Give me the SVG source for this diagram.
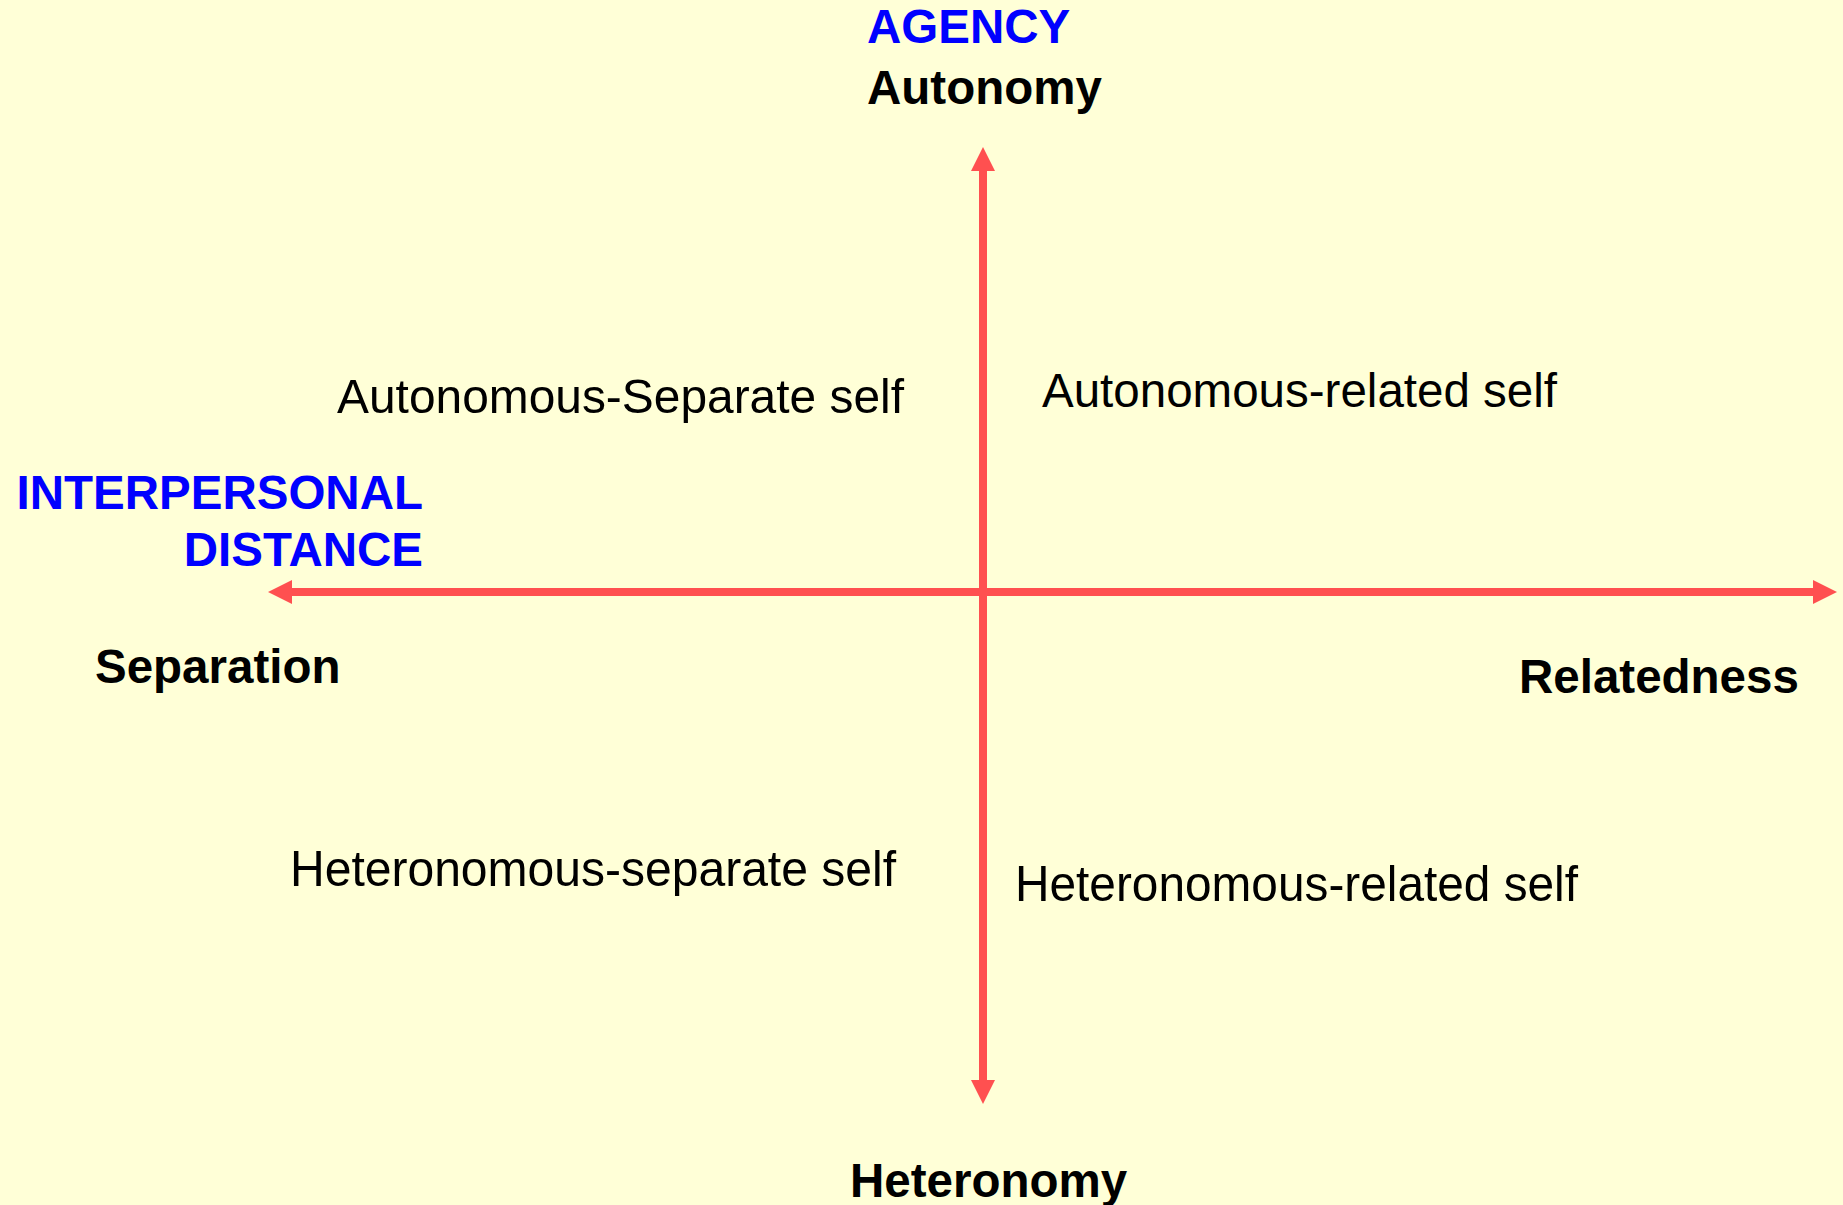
<svg xmlns="http://www.w3.org/2000/svg" width="1843" height="1205" viewBox="0 0 1843 1205">
  <style>
    .bold { font-family: "Liberation Sans", Arial, sans-serif; font-weight: bold; font-size: 47.5px; fill: #000000; }
    .blue { fill: #0000FF; }
    .reg { font-family: "Liberation Sans", Arial, sans-serif; font-weight: normal; fill: #000000; }
    .axis { stroke: #FF5050; stroke-width: 8; fill: none; }
  </style>
  <defs>
    <marker id="head" markerUnits="userSpaceOnUse" viewBox="0 0 24 24" refX="0" refY="12" markerWidth="24" markerHeight="24" orient="auto-start-reverse">
      <path d="M0,0 L24,12 L0,24 Z" fill="#FF5050"/>
    </marker>
  </defs>
  <rect x="0" y="0" width="1843" height="1205" fill="#FFFFD7"/>

  <g id="connectors">
    <line class="axis" x1="983" y1="171" x2="983" y2="1080" marker-start="url(#head)" marker-end="url(#head)"/>
    <line class="axis" x1="292" y1="592" x2="1813" y2="592" marker-start="url(#head)" marker-end="url(#head)"/>
  </g>

  <g id="agency-title">
    <text class="bold blue" x="867" y="43" font-size="48">AGENCY</text>
  </g>
  <g id="autonomy">
    <text class="bold" x="867" y="104">Autonomy</text>
  </g>
  <g id="interpersonal-distance-title">
    <text class="bold blue" x="423" y="509" text-anchor="end" font-size="48.5">INTERPERSONAL</text>
    <text class="bold blue" x="423" y="566" text-anchor="end" font-size="48.5">DISTANCE</text>
  </g>
  <g id="separation">
    <text class="bold" x="95" y="683">Separation</text>
  </g>
  <g id="relatedness">
    <text class="bold" x="1519" y="693">Relatedness</text>
  </g>
  <g id="heteronomy">
    <text class="bold" x="850" y="1197">Heteronomy</text>
  </g>

  <g id="autonomous-separate">
    <text class="reg" x="337" y="413" font-size="48.5" textLength="567" lengthAdjust="spacingAndGlyphs">Autonomous-Separate self</text>
  </g>
  <g id="autonomous-related">
    <text class="reg" x="1042" y="407" font-size="48" textLength="515" lengthAdjust="spacingAndGlyphs">Autonomous-related self</text>
  </g>
  <g id="heteronomous-separate">
    <text class="reg" x="290" y="886" font-size="50" textLength="606" lengthAdjust="spacingAndGlyphs">Heteronomous-separate self</text>
  </g>
  <g id="heteronomous-related">
    <text class="reg" x="1015" y="901" font-size="50" textLength="563" lengthAdjust="spacingAndGlyphs">Heteronomous-related self</text>
  </g>
</svg>
